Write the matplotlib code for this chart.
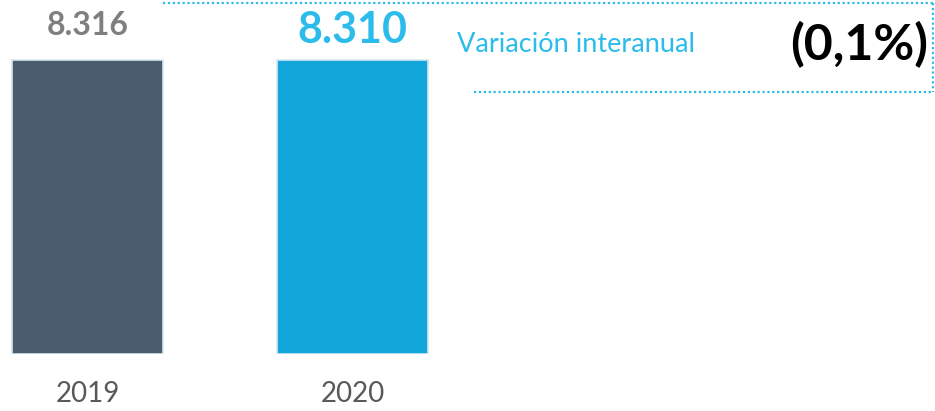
import matplotlib.pyplot as plt
from matplotlib.lines import Line2D

# data
years = ["2019", "2020"]
values = [8316, 8310]
value_labels = ["8.316", "8.310"]
variation_label = "Variación interanual"
variation_value = "(0,1%)"

bar_colors = ["#4a5d6e", "#12a6db"]
label_colors = ["#7f7f7f", "#2bbcec"]
label_sizes = [23, 31]
label_offsets = [25, 22]
W, H = 935, 411

plt.rcParams['font.family'] = ['Lato', 'DejaVu Sans']

fig = plt.figure(figsize=(W / 100, H / 100), dpi=100)
ax = fig.add_axes([0, 57 / H, 1, 354 / H])

x = list(range(len(years)))
ax.bar(x, values, width=0.57, color=bar_colors, edgecolor="#d5e8f0", linewidth=1.2)
ax.set_xlim(-87.5 / 265, (W - 87.5) / 265)
ax.set_ylim(0, values[0] * 354 / 294)
ax.axis("off")

# value labels above bars
for i, (v, lab) in enumerate(zip(values, value_labels)):
    ax.annotate(lab, (i, v), xytext=(0, label_offsets[i]), textcoords="offset points",
                ha="center", va="center", fontsize=label_sizes[i],
                fontweight="bold", color=label_colors[i])

# year labels below bars
for i, yr in enumerate(years):
    ax.annotate(yr, (i, 0), xytext=(0, -29), textcoords="offset points",
                ha="center", va="center", fontsize=20, color="#595959")

# variation box
fig.text(457 / W, 1 - 45 / H, variation_label, ha="left", va="center",
         fontsize=19.5, color="#2bbcec")
fig.text(928 / W, 1 - 45 / H, variation_value, ha="right", va="center",
         fontsize=36, fontweight="bold", color="black")

dot = dict(color="#2bbcec", linestyle=(0, (1, 1.2)), linewidth=1.6)
fig.add_artist(Line2D([163 / W, 933 / W], [1 - 3 / H, 1 - 3 / H], **dot))
fig.add_artist(Line2D([933 / W, 933 / W], [1 - 3 / H, 1 - 92 / H], **dot))
fig.add_artist(Line2D([474 / W, 933 / W], [1 - 92 / H, 1 - 92 / H], **dot))

fig.savefig("out.png", dpi=100)
